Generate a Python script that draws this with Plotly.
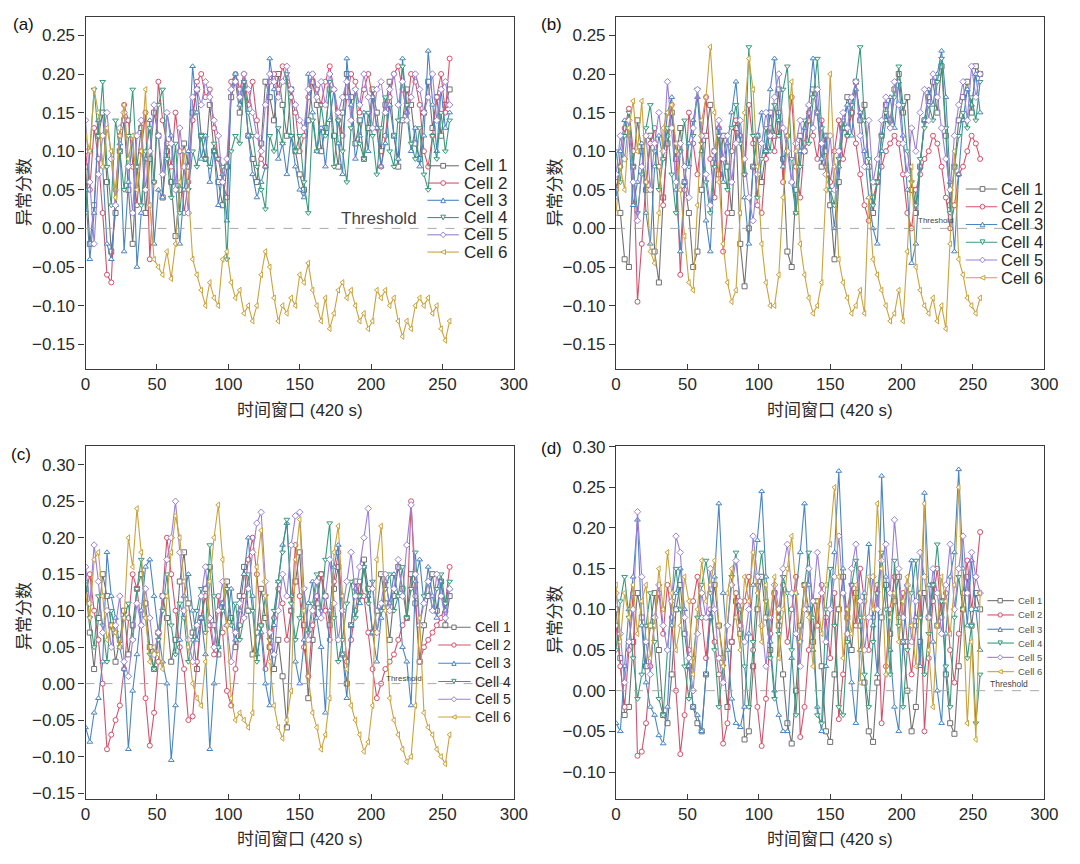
import plotly.graph_objects as go

W, H = 1080, 864

# ---------------- data ----------------
WINDOWS = list(range(0, 256, 3))
CELL_NAMES = ["Cell 1", "Cell 2", "Cell 3", "Cell 4", "Cell 5", "Cell 6"]
THRESHOLD = 0.0
X_TICKS = [0, 50, 100, 150, 200, 250, 300]
Y_TICKS_AB = [-0.15, -0.10, -0.05, 0.00, 0.05, 0.10, 0.15, 0.20, 0.25]
Y_TICKS_C = [-0.15, -0.10, -0.05, 0.00, 0.05, 0.10, 0.15, 0.20, 0.25, 0.30]
Y_TICKS_D = [-0.10, -0.05, 0.00, 0.05, 0.10, 0.15, 0.20, 0.25, 0.30]
X_TITLE = "时间窗口 (420 s)"
Y_TITLE = "异常分数"
PANEL_LABELS = ["(a)", "(b)", "(c)", "(d)"]

# panel (a)
a_cell1 = [0.08, -0.02, 0.03, 0.12, 0.15, 0.06, -0.03, 0.02, 0.10, 0.14,
           0.05, -0.02, 0.08, 0.13, 0.02, 0.09, 0.15, 0.12, 0.04, 0.10,
           0.06, -0.01, 0.05, 0.11, 0.08, 0.15, 0.18, 0.12, 0.09, 0.16,
           0.10, 0.06, 0.03, 0.08, 0.17, 0.19, 0.15, 0.18, 0.12, 0.09,
           0.06, 0.11, 0.19, 0.17, 0.14, 0.20, 0.16, 0.12, 0.18, 0.10,
           0.07, 0.05, 0.14, 0.19, 0.16, 0.10, 0.13, 0.18, 0.12, 0.08,
           0.15, 0.20, 0.17, 0.11, 0.14, 0.09, 0.13, 0.18, 0.15, 0.10,
           0.16, 0.19, 0.12, 0.08, 0.14, 0.18, 0.16, 0.11, 0.09, 0.15,
           0.19, 0.13, 0.17, 0.12, 0.16, 0.18]
a_cell2 = [0.10, 0.05, 0.13, 0.09, 0.02, -0.06, -0.07, 0.05, 0.12, 0.16,
           0.14, 0.08, 0.03, 0.10, 0.15, -0.04, 0.06, 0.19, 0.14, 0.11,
           0.08, 0.15, 0.10, 0.02, 0.06, 0.14, 0.19, 0.20, 0.17, 0.18,
           0.13, 0.09, 0.06, 0.04, 0.19, 0.20, 0.18, 0.20, 0.16, 0.19,
           0.14, 0.09, 0.08, 0.19, 0.20, 0.18, 0.21, 0.19, 0.17, 0.15,
           0.10, 0.12, 0.17, 0.20, 0.18, 0.16, 0.19, 0.21, 0.18, 0.14,
           0.12, 0.17, 0.20, 0.19, 0.15, 0.18, 0.20, 0.17, 0.13, 0.08,
           0.12, 0.17, 0.20, 0.21, 0.18, 0.15, 0.20, 0.19, 0.16, 0.10,
           0.08, 0.12, 0.17, 0.20, 0.15, 0.22]
a_cell3 = [0.05, -0.04, 0.02, 0.14, 0.08, -0.02, -0.04, 0.03, 0.11, -0.03,
           0.06, 0.12, -0.05, 0.02, 0.09, 0.14, -0.02, 0.05, 0.04, 0.15,
           0.12, 0.06, -0.02, 0.05, 0.10, 0.21, 0.15, 0.09, 0.12, 0.06,
           0.10, 0.03, 0.07, 0.01, 0.18, 0.20, 0.16, 0.19, 0.12, 0.07,
           0.04, 0.06, 0.08, 0.22, 0.18, 0.09, 0.11, 0.07, 0.12, 0.08,
           0.05, 0.04, 0.20, 0.15, 0.10, 0.13, 0.08, 0.14, 0.18, 0.11,
           0.07, 0.22, 0.16, 0.09, 0.12, 0.15, 0.10, 0.17, 0.13, 0.08,
           0.11, 0.16, 0.12, 0.09, 0.22, 0.15, 0.10, 0.13, 0.08, 0.12,
           0.23, 0.16, 0.10, 0.18, 0.13, 0.15]
a_cell4 = [0.02, 0.10, 0.18, 0.12, 0.19, 0.08, 0.03, 0.14, 0.10, 0.05,
           0.12, 0.18, 0.08, 0.03, 0.10, 0.13, 0.06, 0.16, 0.18, 0.09,
           0.04, 0.11, 0.02, 0.08, 0.05, 0.10, 0.08, 0.12, 0.09, 0.08,
           0.11, 0.09, 0.08, -0.04, 0.10, 0.12, 0.11, 0.19, 0.15, 0.12,
           0.08, 0.05, 0.025, 0.12, 0.10, 0.13, 0.11, 0.20, 0.12, 0.10,
           0.12, 0.06, 0.02, 0.14, 0.10, 0.16, 0.12, 0.19, 0.08, 0.14,
           0.10, 0.06, 0.13, 0.18, 0.11, 0.09, 0.15, 0.12, 0.07, 0.13,
           0.17, 0.10, 0.08, 0.14, 0.21, 0.16, 0.11, 0.09, 0.13, 0.07,
           0.05, 0.12, 0.09, 0.15, 0.10, 0.14]
a_cell5 = [0.14, 0.06, -0.02, 0.07, 0.12, 0.15, 0.09, 0.03, 0.13, 0.15,
           0.08, 0.02, 0.12, 0.14, 0.05, 0.10, 0.16, 0.12, 0.07, 0.15,
           0.11, 0.05, 0.13, 0.08, 0.02, 0.17, 0.18, 0.16, 0.19, 0.17,
           0.14, 0.12, 0.06, 0.09, 0.18, 0.19, 0.17, 0.20, 0.18, 0.15,
           0.12, 0.10, 0.16, 0.20, 0.19, 0.17, 0.19, 0.21, 0.18, 0.16,
           0.14, 0.13, 0.18, 0.20, 0.17, 0.19, 0.16, 0.20, 0.18, 0.15,
           0.17, 0.19, 0.14, 0.18, 0.16, 0.20, 0.17, 0.13, 0.18, 0.19,
           0.15, 0.18, 0.20, 0.16, 0.19, 0.14, 0.17, 0.20, 0.18, 0.15,
           0.17, 0.20, 0.14, 0.18, 0.19, 0.16]
a_cell6 = [0.12, 0.10, 0.18, 0.15, 0.08, 0.13, 0.10, 0.04, 0.12, 0.16,
           0.09, 0.12, 0.05, 0.10, 0.18, 0.03, -0.04, -0.05, -0.06, -0.03,
           -0.065, -0.02, 0.06, 0.10, 0.05, -0.04, -0.06, -0.08, -0.10, -0.07,
           -0.09, -0.10, -0.04, -0.03, -0.07, -0.09, -0.08, -0.11, -0.10, -0.12,
           -0.10, -0.06, -0.03, -0.05, -0.09, -0.12, -0.10, -0.11, -0.09, -0.10,
           -0.06, -0.07, -0.045, -0.08, -0.10, -0.12, -0.09, -0.13, -0.11, -0.08,
           -0.07, -0.09, -0.08, -0.10, -0.12, -0.11, -0.13, -0.12, -0.08, -0.09,
           -0.08, -0.10, -0.09, -0.12, -0.14, -0.12, -0.13, -0.10, -0.09, -0.10,
           -0.09, -0.11, -0.10, -0.13, -0.145, -0.12]

# panel (b)
b_cell1 = [0.06, 0.02, -0.04, -0.05, 0.08, 0.14, 0.10, 0.05, 0.12, -0.03,
           -0.07, 0.04, 0.11, 0.15, 0.09, 0.13, 0.06, 0.02, -0.05, -0.03,
           0.05, 0.12, 0.16, 0.10, 0.07, 0.12, 0.08, 0.02, 0.13, -0.02,
           -0.075, 0.00, 0.08, 0.12, 0.06, 0.10, 0.15, 0.12, 0.18, 0.09,
           -0.03, -0.05, 0.05, 0.12, 0.10, 0.14, 0.18, 0.15, 0.08, 0.12,
           0.03, -0.04, 0.06, 0.13, 0.17, 0.15, 0.19, 0.14, 0.16, 0.08,
           0.02, 0.06, 0.12, 0.16, 0.14, 0.18, 0.20, 0.15, 0.17, 0.05,
           0.02, 0.08, 0.14, 0.17, 0.19, 0.15, 0.21, 0.12, 0.03, 0.08,
           0.14, 0.17, 0.19, 0.15, 0.21, 0.20]
b_cell2 = [0.05, 0.08, 0.13, 0.155, 0.10, -0.095, -0.02, 0.06, 0.11, 0.13,
           0.08, 0.03, 0.12, 0.16, 0.10, -0.06, 0.05, 0.15, 0.11, 0.07,
           0.12, 0.17, 0.09, 0.04, 0.13, -0.03, 0.02, 0.10, 0.14, 0.12,
           0.07, 0.16, 0.11, 0.03, 0.02, 0.09, 0.13, 0.10, 0.15, 0.06,
           0.12, 0.17, 0.08, 0.04, 0.11, 0.15, 0.12, 0.09, 0.14, 0.10,
           0.06, 0.10, 0.14, 0.09, 0.12, 0.15, 0.11, 0.07, 0.03, 0.01,
           0.04, 0.06, 0.08, 0.10, 0.11, 0.12, 0.11, 0.07, 0.02, 0.00,
           0.05, 0.07, 0.09, 0.10, 0.12, 0.11, 0.08, 0.04, 0.00, 0.03,
           0.07, 0.08, 0.10, 0.12, 0.11, 0.09]
b_cell3 = [0.04, 0.10, 0.14, 0.12, 0.03, 0.06, 0.11, 0.02, -0.02, 0.08,
           0.12, 0.09, 0.15, 0.17, 0.05, -0.03, 0.06, 0.11, 0.14, 0.17,
           0.10, 0.01, -0.03, 0.09, 0.13, 0.06, 0.11, 0.15, 0.19, 0.12,
           0.04, -0.02, 0.08, 0.12, 0.15, 0.10, 0.18, 0.22, 0.14, 0.08,
           0.12, 0.06, 0.02, 0.10, 0.13, 0.16, 0.22, 0.15, 0.09, 0.12,
           0.05, 0.00, 0.08, 0.13, 0.16, 0.12, 0.18, 0.15, 0.10, 0.04,
           0.00, -0.02, 0.10, 0.14, 0.17, 0.13, 0.19, 0.12, 0.05, -0.045,
           -0.02, 0.08, 0.14, 0.18, 0.16, 0.20, 0.23, 0.17, 0.06, -0.03,
           0.07, 0.14, 0.18, 0.16, 0.20, 0.15]
b_cell4 = [0.10, 0.06, 0.12, 0.15, 0.08, 0.02, 0.07, 0.13, 0.16, 0.10,
           0.05, 0.09, 0.13, 0.07, 0.02, 0.10, 0.14, 0.08, 0.12, 0.18,
           0.11, 0.06, 0.02, 0.08, 0.12, 0.09, 0.05, 0.13, 0.16, 0.11,
           0.07, 0.235, 0.12, 0.04, 0.09, 0.13, 0.10, 0.16, 0.12, 0.18,
           0.21, 0.09, 0.02, 0.08, 0.14, 0.11, 0.17, 0.22, 0.13, 0.08,
           0.05, 0.03, 0.09, 0.14, 0.12, 0.16, 0.19, 0.235, 0.14, 0.09,
           0.03, 0.06, 0.12, 0.15, 0.13, 0.17, 0.21, 0.16, 0.10, 0.06,
           0.03, 0.09, 0.13, 0.16, 0.14, 0.19, 0.22, 0.13, 0.02, 0.08,
           0.12, 0.15, 0.13, 0.17, 0.14, 0.19]
b_cell5 = [0.07, 0.12, 0.09, 0.14, 0.06, 0.01, 0.08, 0.12, 0.05, 0.11,
           0.15, 0.10, 0.19, 0.13, 0.06, 0.11, 0.08, 0.04, 0.13, 0.18,
           0.12, 0.07, 0.03, 0.10, 0.14, 0.09, 0.12, 0.06, 0.11, 0.14,
           0.09, 0.04, 0.01, 0.07, 0.11, 0.15, 0.12, 0.17, 0.20, 0.13,
           0.10, 0.06, 0.11, 0.14, 0.10, 0.16, 0.13, 0.18, 0.11, 0.07,
           0.12, 0.05, 0.10, 0.15, 0.13, 0.17, 0.19, 0.12, 0.08, 0.14,
           0.06, 0.09, 0.14, 0.17, 0.13, 0.19, 0.16, 0.11, 0.07, 0.13,
           0.10, 0.15, 0.18, 0.14, 0.20, 0.17, 0.13, 0.09, 0.05, 0.12,
           0.16, 0.19, 0.14, 0.21, 0.17, 0.20]
b_cell6 = [0.02, 0.08, 0.05, 0.13, 0.165, 0.10, 0.165, 0.06, -0.03, -0.045,
           0.02, 0.13, 0.15, 0.16, 0.11, 0.05, -0.01, -0.07, -0.08, 0.03,
           0.14, 0.17, 0.235, 0.15, 0.06, -0.02, -0.07, -0.095, -0.08, 0.02,
           0.15, 0.22, 0.18, 0.08, -0.02, -0.07, -0.10, -0.10, -0.06, 0.04,
           0.12, 0.19, 0.10, -0.02, -0.06, -0.09, -0.11, -0.10, -0.07, 0.05,
           0.20, 0.08, -0.04, -0.07, -0.09, -0.11, -0.10, -0.08, -0.11, 0.04,
           -0.04, -0.06, -0.08, -0.10, -0.12, -0.11, -0.08, -0.12, -0.03, 0.08,
           -0.05, -0.08, -0.10, -0.11, -0.09, -0.12, -0.10, -0.13, -0.02, 0.10,
           -0.04, -0.06, -0.09, -0.10, -0.11, -0.09]

# panel (c)
c_cell1 = [0.13, 0.07, 0.02, 0.09, 0.15, 0.12, 0.08, 0.03, 0.06, 0.10,
           0.04, 0.08, 0.13, 0.15, 0.11, 0.05, 0.02, 0.07, 0.12, 0.09,
           0.03, 0.06, 0.14, 0.18, 0.11, 0.07, 0.02, 0.09, 0.13, 0.16,
           0.08, 0.04, 0.11, 0.14, 0.09, 0.05, 0.12, 0.16, 0.10, 0.04,
           0.07, 0.13, 0.09, 0.05, 0.02, 0.06, 0.01, -0.06, 0.10, 0.14,
           0.18, 0.08, -0.02, 0.06, 0.11, 0.15, 0.12, 0.08, 0.13, 0.16,
           0.04, 0.00, 0.08, 0.14, 0.12, 0.17, 0.13, 0.07, 0.10, 0.15,
           0.11, 0.06, 0.12, 0.16, 0.13, 0.09, 0.15, 0.11, 0.03, 0.08,
           0.12, 0.15, 0.10, 0.14, 0.08, 0.12]
c_cell2 = [0.12, 0.15, 0.10, 0.06, 0.00, -0.09, -0.07, -0.05, -0.03, 0.02,
           0.09, 0.15, 0.13, 0.08, -0.02, -0.085, -0.04, 0.03, 0.12, 0.20,
           0.15, 0.10, 0.05, 0.02, -0.05, -0.045, 0.03, 0.09, 0.12, 0.08,
           0.04, 0.12, 0.07, -0.01, -0.03, 0.02, 0.08, 0.12, 0.17, 0.20,
           0.15, 0.08, 0.02, 0.05, 0.09, 0.13, 0.11, 0.06, 0.10, 0.19,
           0.12, 0.05, 0.01, 0.08, 0.12, 0.15, 0.10, 0.06, 0.14, 0.18,
           0.10, 0.03, 0.06, 0.10, 0.14, 0.12, 0.07, 0.02, -0.02, 0.00,
           0.02, 0.03, 0.04, 0.06, 0.08, 0.09, 0.25, 0.12, 0.03, 0.05,
           0.06, 0.07, 0.08, 0.09, 0.11, 0.16]
c_cell3 = [-0.06, -0.08, -0.04, -0.02, 0.03, 0.18, 0.12, 0.09, 0.05, 0.02,
           -0.09, -0.01, 0.04, 0.10, 0.16, 0.17, 0.12, 0.07, 0.03, 0.00,
           -0.105, -0.03, 0.06, 0.12, 0.15, 0.10, 0.06, 0.09, 0.04, -0.09,
           0.00, 0.05, 0.11, 0.08, 0.13, 0.06, 0.10, 0.15, 0.20, 0.12,
           0.04, 0.07, 0.00, -0.03, 0.08, 0.14, 0.19, 0.22, 0.12, 0.03,
           0.00, 0.06, 0.11, 0.14, 0.09, 0.05, -0.04, 0.10, 0.16, 0.19,
           0.04, -0.02, 0.08, 0.13, 0.11, 0.16, 0.12, 0.07, 0.03, 0.09,
           0.14, 0.11, 0.15, 0.12, 0.05, 0.03, -0.03, 0.14, 0.17, 0.11,
           0.16, 0.12, 0.09, 0.14, 0.10, 0.13]
c_cell4 = [0.14, 0.09, 0.05, 0.12, 0.08, 0.03, 0.10, 0.07, 0.05, 0.09,
           0.11, 0.06, 0.13, 0.17, 0.09, 0.04, 0.02, 0.06, 0.10, 0.15,
           0.08, 0.04, 0.11, 0.09, 0.03, 0.06, 0.10, 0.13, 0.07, 0.19,
           0.12, 0.05, 0.10, 0.13, 0.08, 0.11, 0.06, 0.09, 0.15, 0.10,
           0.03, 0.08, 0.12, 0.06, 0.10, 0.14, 0.18, 0.225, 0.11, 0.06,
           0.09, 0.13, 0.07, 0.11, 0.15, 0.10, 0.17, 0.22, 0.09, 0.03,
           0.06, 0.11, 0.14, 0.09, 0.12, 0.16, 0.11, 0.14, 0.07, 0.10,
           0.13, 0.15, 0.10, 0.12, 0.16, 0.09, 0.13, 0.18, 0.08, 0.12,
           0.14, 0.10, 0.13, 0.15, 0.11, 0.14]
c_cell5 = [0.16, 0.11, 0.19, 0.14, 0.07, 0.10, 0.05, 0.08, 0.12, 0.03,
           0.01, 0.06, 0.11, 0.08, 0.13, 0.09, 0.04, 0.07, 0.12, 0.17,
           0.20, 0.25, 0.18, 0.10, 0.06, 0.03, 0.08, 0.12, 0.16, 0.09,
           0.05, 0.10, 0.14, 0.08, 0.03, 0.07, 0.11, 0.09, 0.13, 0.18,
           0.22, 0.235, 0.14, 0.07, 0.04, 0.10, 0.15, 0.12, 0.19, 0.23,
           0.235, 0.13, 0.06, 0.10, 0.14, 0.09, 0.12, 0.17, 0.11, 0.06,
           0.10, 0.14, 0.18, 0.12, 0.16, 0.20, 0.24, 0.13, 0.07, 0.11,
           0.15, 0.10, 0.13, 0.17, 0.12, 0.19, 0.245, 0.15, 0.08, 0.11,
           0.14, 0.10, 0.15, 0.12, 0.09, 0.13]
c_cell6 = [0.12, 0.09, 0.17, 0.18, 0.12, 0.06, 0.08, 0.07, 0.05, 0.09,
           0.20, 0.16, 0.24, 0.18, 0.09, 0.03, 0.05, 0.04, 0.02, 0.12,
           0.18, 0.23, 0.20, 0.14, 0.05, 0.00, -0.02, -0.03, 0.03, 0.14,
           0.20, 0.245, 0.17, 0.08, -0.02, -0.05, -0.04, -0.05, -0.06, -0.04,
           0.16, 0.21, 0.12, 0.03, -0.03, -0.06, -0.075, -0.05, -0.01, 0.17,
           0.225, 0.10, 0.01, -0.04, -0.06, -0.09, -0.07, -0.02, 0.18, 0.216,
           0.12, 0.02, -0.03, -0.05, -0.07, -0.093, -0.08, -0.03, 0.17, 0.216,
           0.10, -0.02, -0.05, -0.07, -0.09, -0.107, -0.10, -0.03, 0.09, -0.04,
           -0.06, -0.07, -0.09, -0.10, -0.11, -0.07]

# panel (d)
d_cell1 = [0.10, 0.04, -0.03, -0.02, 0.06, 0.12, 0.09, 0.03, 0.08, 0.12,
           0.05, -0.03, -0.04, 0.02, 0.10, 0.13, 0.07, 0.03, -0.02, -0.04,
           -0.05, 0.02, 0.09, 0.13, 0.08, 0.04, -0.02, 0.06, 0.11, 0.07,
           -0.06, -0.05, 0.03, 0.10, 0.14, 0.09, 0.05, 0.12, 0.08, 0.02,
           -0.04, -0.065, 0.00, 0.08, 0.13, 0.10, 0.06, 0.11, 0.03, -0.05,
           -0.063, 0.02, 0.10, 0.14, 0.09, 0.05, 0.12, 0.08, 0.01, -0.05,
           -0.063, 0.01, 0.09, 0.13, 0.07, 0.11, 0.14, 0.06, 0.00, -0.05,
           -0.02, 0.06, 0.12, 0.09, 0.13, 0.08, 0.11, 0.02, -0.04, -0.053,
           0.03, 0.10, 0.14, 0.08, 0.12, 0.10]
d_cell2 = [0.08, 0.03, -0.02, 0.05, 0.12, -0.08, -0.075, -0.04, 0.03, 0.09,
           0.12, 0.07, 0.13, 0.09, 0.00, -0.078, -0.03, 0.05, 0.11, 0.14,
           0.09, 0.04, 0.10, 0.06, 0.02, -0.065, -0.04, 0.06, 0.12, 0.08,
           0.11, 0.14, 0.05, -0.02, -0.068, -0.01, 0.07, 0.12, 0.09, 0.13,
           0.06, 0.10, 0.14, -0.057, -0.02, 0.05, 0.11, 0.08, 0.13, 0.09,
           0.04, 0.12, -0.035, 0.02, 0.10, 0.13, 0.08, 0.15, 0.11, 0.05,
           0.09, 0.13, -0.04, 0.03, 0.10, 0.14, 0.09, 0.12, 0.06, 0.02,
           0.08, 0.12, -0.05, 0.04, 0.11, 0.15, 0.09, 0.12, 0.05, 0.01,
           0.07, 0.12, 0.16, 0.10, 0.14, 0.195]
d_cell3 = [-0.04, -0.05, 0.03, 0.10, 0.14, 0.21, 0.08, 0.01, -0.02, -0.03,
           -0.055, -0.065, -0.02, 0.08, 0.12, 0.15, 0.10, 0.03, -0.02, -0.03,
           -0.05, 0.02, 0.09, 0.14, 0.23, 0.12, 0.05, -0.01, -0.04, -0.045,
           -0.02, 0.07, 0.13, 0.185, 0.245, 0.14, 0.06, 0.00, -0.03, -0.05,
           -0.05, 0.04, 0.12, 0.17, 0.23, 0.13, 0.05, -0.02, -0.05, 0.03,
           0.10, 0.17, 0.27, 0.15, 0.06, 0.01, -0.04, 0.05, 0.12, 0.18,
           0.08, 0.02, 0.264, 0.14, 0.05, -0.02, -0.05, 0.06, 0.13, 0.16,
           0.09, 0.03, 0.243, 0.13, 0.06, 0.00, -0.04, 0.07, 0.14, 0.17,
           0.272, 0.15, 0.08, 0.16, 0.10, 0.05]
d_cell4 = [0.05, 0.11, 0.14, 0.09, 0.04, -0.01, 0.02, 0.08, 0.12, 0.06,
           -0.01, -0.03, 0.05, 0.11, 0.15, 0.10, 0.03, -0.01, 0.04, 0.09,
           0.13, 0.16, 0.12, 0.05, -0.02, 0.03, 0.08, 0.14, 0.17, 0.10,
           0.03, -0.02, 0.06, 0.13, 0.17, 0.11, 0.04, -0.01, 0.07, 0.14,
           0.12, 0.05, -0.03, 0.06, 0.13, 0.17, 0.09, -0.03, -0.04, 0.10,
           0.15, 0.08, -0.02, -0.03, 0.06, 0.13, 0.16, 0.09, 0.02, -0.02,
           0.06, 0.12, 0.17, 0.10, 0.02, 0.16, 0.08, -0.02, 0.05, 0.12,
           0.16, 0.09, 0.02, 0.07, 0.13, 0.18, 0.11, 0.03, -0.02, 0.09,
           0.14, 0.10, 0.04, 0.08, -0.04, 0.02]
d_cell5 = [0.12, 0.07, 0.01, 0.06, 0.10, 0.22, 0.14, 0.06, 0.02, 0.09,
           0.13, 0.08, 0.05, 0.11, 0.19, 0.17, 0.09, 0.04, 0.00, 0.07,
           0.12, 0.09, 0.15, 0.10, 0.04, 0.01, 0.08, 0.13, 0.16, 0.11,
           0.06, 0.10, 0.19, 0.14, 0.08, 0.03, 0.09, 0.13, 0.10, 0.15,
           0.18, 0.12, 0.07, 0.03, 0.10, 0.15, 0.11, 0.17, 0.12, 0.06,
           0.10, 0.14, 0.19, 0.12, 0.07, 0.15, 0.18, 0.11, 0.05, 0.09,
           0.14, 0.10, 0.16, 0.18, 0.12, 0.21, 0.15, 0.09, 0.13, 0.06,
           0.11, 0.17, 0.14, 0.09, 0.15, 0.12, 0.07, 0.13, 0.18, 0.10,
           0.15, 0.19, 0.12, 0.17, 0.14, 0.12]
d_cell6 = [0.13, 0.06, 0.12, 0.09, 0.13, 0.07, 0.11, 0.13, 0.04, 0.08,
           0.15, 0.10, 0.17, 0.12, 0.05, 0.08, 0.14, 0.11, 0.02, 0.10,
           0.16, 0.11, 0.13, 0.16, 0.08, 0.03, 0.12, 0.15, 0.09, 0.05,
           0.14, 0.11, 0.17, 0.12, 0.06, 0.13, 0.09, 0.14, 0.04, 0.10,
           0.15, 0.19, 0.12, 0.06, 0.13, 0.09, 0.03, 0.11, 0.07, 0.13,
           0.18, 0.25, 0.14, 0.04, 0.10, 0.07, 0.13, 0.01, 0.09, 0.14,
           0.10, 0.23, 0.15, 0.02, 0.09, 0.12, 0.06, 0.11, 0.14, 0.08,
           0.03, 0.12, 0.23, 0.05, -0.02, 0.08, 0.14, 0.11, 0.07, 0.13,
           0.25, 0.10, -0.04, 0.06, -0.06, 0.12]

# ---------------- styling ----------------
COLORS = ["#707070", "#d5506a", "#4a85c4", "#3a9b7b", "#9a80d8", "#cca33c"]
SYMBOLS = ["square", "circle", "triangle-up", "triangle-down", "diamond", "triangle-left"]
FONT = "Liberation Sans, Arial, Noto Sans CJK SC, sans-serif"
CJK = "Liberation Sans, Noto Sans CJK SC, sans-serif"
AXIS_COLOR = "#3a3a3a"
TEXT_COLOR = "#2a2a2a"


def px(x):
    return x / W


def py(y):
    return 1 - y / H


panels = [
    dict(series=[a_cell1, a_cell2, a_cell3, a_cell4, a_cell5, a_cell6],
         xdom=(82, 518), ydom=(9, 366), yrange=(-0.182, 0.274), yticks=Y_TICKS_AB,
         label=(19, 17), ytitle=(20, 187), xtitle=(300, 408),
         leg=dict(rows=[160, 177.5, 195, 212.5, 230, 247.5], lx=(430, 462), mx=446, tx=466,
                  size=17, color=TEXT_COLOR, ms=2.4),
         thr=dict(x=420, y=213, size=17, anchor="right")),
    dict(series=[b_cell1, b_cell2, b_cell3, b_cell4, b_cell5, b_cell6],
         xdom=(622, 1058), ydom=(9, 366), yrange=(-0.182, 0.274), yticks=Y_TICKS_AB,
         label=(556, 17), ytitle=(560, 187), xtitle=(840, 408),
         leg=dict(rows=[183.5, 201.5, 219.5, 237.5, 255.5, 273.5], lx=(978, 1010), mx=995, tx=1013,
                  size=16.5, color=TEXT_COLOR, ms=2.4),
         thr=dict(x=928, y=215, size=8, anchor="left")),
    dict(series=[c_cell1, c_cell2, c_cell3, c_cell4, c_cell5, c_cell6],
         xdom=(82, 518), ydom=(444, 802), yrange=(-0.158, 0.326), yticks=Y_TICKS_C,
         label=(16, 453), ytitle=(20, 617), xtitle=(300, 843),
         leg=dict(rows=[628, 646, 664.5, 683, 701, 719], lx=(441, 474), mx=457, tx=477,
                  size=14, color=TEXT_COLOR, ms=2.2),
         thr=dict(x=387, y=680, size=8, anchor="left")),
    dict(series=[d_cell1, d_cell2, d_cell3, d_cell4, d_cell5, d_cell6],
         xdom=(622, 1058), ydom=(444, 802), yrange=(-0.133, 0.301), yticks=Y_TICKS_D,
         label=(556, 447), ytitle=(560, 620), xtitle=(840, 843),
         leg=dict(rows=[601, 615.5, 630, 644, 658.5, 673], lx=(1000, 1027), mx=1013, tx=1030,
                  size=9.5, color="#555555", ms=2.2),
         thr=dict(x=1002, y=686, size=8.5, anchor="left")),
]

for p in panels:
    for s in p["series"]:
        assert len(s) == len(WINDOWS), (len(s), len(WINDOWS))


def marker_shape(sym, cx, cy, r, color):
    x0, x1 = px(cx - r), px(cx + r)
    y0, y1 = py(cy + r), py(cy - r)
    base = dict(xref="paper", yref="paper", line=dict(color=color, width=1),
                fillcolor="white", layer="above")
    if sym == "square":
        return dict(type="rect", x0=x0, x1=x1, y0=y0, y1=y1, **base)
    if sym == "circle":
        return dict(type="circle", x0=x0, x1=x1, y0=y0, y1=y1, **base)
    if sym == "triangle-up":
        path = f"M {px(cx)} {py(cy - r)} L {px(cx + r)} {py(cy + r)} L {px(cx - r)} {py(cy + r)} Z"
    elif sym == "triangle-down":
        path = f"M {px(cx)} {py(cy + r)} L {px(cx + r)} {py(cy - r)} L {px(cx - r)} {py(cy - r)} Z"
    elif sym == "diamond":
        path = (f"M {px(cx)} {py(cy - r * 1.2)} L {px(cx + r * 1.2)} {py(cy)} "
                f"L {px(cx)} {py(cy + r * 1.2)} L {px(cx - r * 1.2)} {py(cy)} Z")
    else:  # triangle-left
        path = f"M {px(cx - r)} {py(cy)} L {px(cx + r)} {py(cy - r)} L {px(cx + r)} {py(cy + r)} Z"
    return dict(type="path", path=path, **base)


fig = go.Figure()
shapes = []
annotations = []
layout_axes = {}

for i, p in enumerate(panels):
    n = "" if i == 0 else str(i + 1)
    xa, ya = "x" + n, "y" + n
    for k, vals in enumerate(p["series"]):
        fig.add_trace(go.Scatter(
            x=WINDOWS, y=vals, xaxis=xa, yaxis=ya, mode="lines+markers",
            name=CELL_NAMES[k], showlegend=False,
            line=dict(color=COLORS[k], width=1.1),
            marker=dict(symbol=SYMBOLS[k], size=5, color="white",
                        line=dict(color=COLORS[k], width=1)),
        ))
    layout_axes["xaxis" + n] = dict(
        domain=[px(p["xdom"][0]), px(p["xdom"][1])], range=[0, 300], tickvals=X_TICKS,
        ticks="inside", ticklen=5, tickcolor=AXIS_COLOR, showline=True, mirror=True,
        linecolor=AXIS_COLOR, linewidth=1.2, showgrid=False, zeroline=False,
        anchor=ya, tickfont=dict(family=FONT, size=17, color=TEXT_COLOR))
    layout_axes["yaxis" + n] = dict(
        domain=[py(p["ydom"][1]), py(p["ydom"][0])], range=list(p["yrange"]),
        tickvals=p["yticks"], tickformat=".2f", ticks="outside", ticklen=6,
        tickcolor=AXIS_COLOR, showline=True, mirror=True, linecolor=AXIS_COLOR,
        linewidth=1.2, showgrid=False, zeroline=False, anchor=xa,
        tickfont=dict(family=FONT, size=17, color=TEXT_COLOR))

    # threshold line
    shapes.append(dict(type="line", xref=xa + " domain", yref=ya, x0=0, x1=1,
                       y0=THRESHOLD, y1=THRESHOLD,
                       line=dict(color="#a8a8a8", width=1, dash="dash"), layer="above"))
    t = p["thr"]
    annotations.append(dict(text="Threshold", xref="paper", yref="paper", borderpad=0,
                            x=px(t["x"]), y=py(t["y"]), xanchor=t["anchor"], yanchor="middle",
                            showarrow=False, font=dict(family=FONT, size=t["size"], color="#444")))

    # panel label and axis titles
    annotations.append(dict(text=PANEL_LABELS[i], xref="paper", yref="paper",
                            x=px(p["label"][0]), y=py(p["label"][1]), xanchor="center",
                            yanchor="middle", showarrow=False,
                            font=dict(family=FONT, size=17, color="#111")))
    annotations.append(dict(text=X_TITLE, xref="paper", yref="paper",
                            x=px(p["xtitle"][0]), y=py(p["xtitle"][1]), xanchor="center",
                            yanchor="middle", showarrow=False,
                            font=dict(family=CJK, size=17, color=TEXT_COLOR)))
    annotations.append(dict(text=Y_TITLE, xref="paper", yref="paper", textangle=-90,
                            x=px(p["ytitle"][0]), y=py(p["ytitle"][1]), xanchor="center",
                            yanchor="middle", showarrow=False,
                            font=dict(family=CJK, size=17, color=TEXT_COLOR)))

    # manual legend
    lg = p["leg"]
    for k, ry in enumerate(lg["rows"]):
        shapes.append(dict(type="line", xref="paper", yref="paper",
                           x0=px(lg["lx"][0]), x1=px(lg["lx"][1]), y0=py(ry), y1=py(ry),
                           line=dict(color=COLORS[k], width=1.1), layer="above"))
        shapes.append(marker_shape(SYMBOLS[k], lg["mx"], ry, lg["ms"], COLORS[k]))
        annotations.append(dict(text=CELL_NAMES[k], xref="paper", yref="paper", borderpad=0,
                                x=px(lg["tx"]), y=py(ry), xanchor="left", yanchor="middle",
                                showarrow=False,
                                font=dict(family=FONT, size=lg["size"], color=lg["color"])))

fig.update_layout(
    width=W, height=H, margin=dict(l=0, r=0, t=0, b=0),
    paper_bgcolor="white", plot_bgcolor="white", showlegend=False,
    shapes=shapes, annotations=annotations, **layout_axes)

fig.write_html("out.html", config={"displayModeBar": False},
               post_script="document.body.style.margin='0';document.body.style.overflow='hidden';")
